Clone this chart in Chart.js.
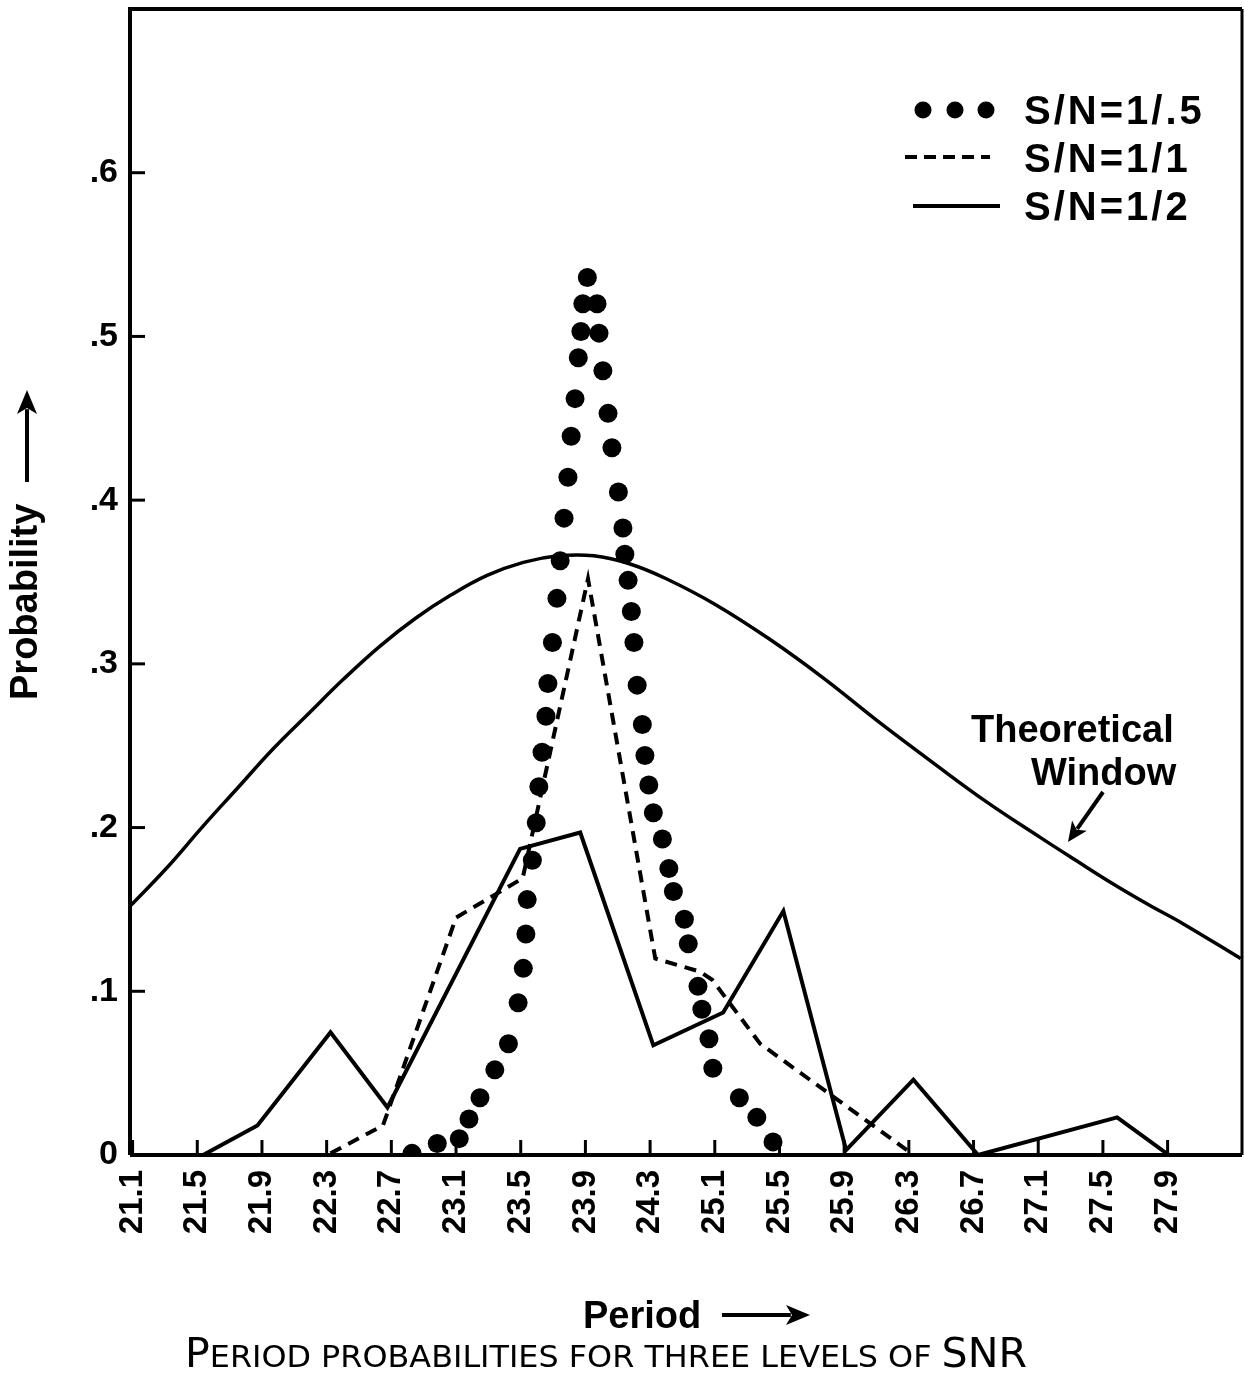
<!DOCTYPE html>
<html><head><meta charset="utf-8">
<script src="https://cdn.jsdelivr.net/npm/chart.js@4.4.1/dist/chart.umd.min.js"></script>
<style>html,body{margin:0;padding:0;background:#fff;overflow:hidden;}#wrap{width:1244px;height:1375px;}canvas{display:block;}</style>
</head><body><div id="wrap"><canvas id="c" width="1244" height="1375"></canvas></div>
<script>
// ---- tick labels (period axis positions are tick indices; original skips 24.7) ----
const xTickLabels = ['21.1','21.5','21.9','22.3','22.7','23.1','23.5','23.9','24.3','25.1','25.5','25.9','26.3','26.7','27.1','27.5','27.9'];
const xTickPositions = [0,1,2,3,4,5,6,7,8,9,10,11,12,13,14,15,16];
const yTickValues = [0,0.1,0.2,0.3,0.4,0.5,0.6];
const yTickLabels = ['0','.1','.2','.3','.4','.5','.6'];
const seriesNames = ['S/N=1/.5','S/N=1/1','S/N=1/2'];
const annotationLines = ['Theoretical','Window'];
const xTitle = 'Period';
const yTitle = 'Probability';
const captionParts = [['P',true],['ERIOD PROBABILITIES FOR THREE LEVELS OF ',false],['SNR',true]];

// ---- S/N = 1/.5 (dots) ----
const snrHalfX = [4.32,4.71,5.05,5.20,5.37,5.60,5.81,5.96,6.04,6.08,6.10,6.18,6.24,6.28,6.33,6.39,6.42,6.49,6.56,6.61,6.67,6.73,6.78,6.84,6.89,6.93,6.96,7.03,7.18,7.21,7.27,7.35,7.41,7.51,7.58,7.61,7.66,7.71,7.75,7.80,7.88,7.92,7.98,8.05,8.19,8.29,8.36,8.53,8.59,8.74,8.80,8.91,8.97,9.38,9.65,9.90];
const snrHalfY = [0.001,0.007,0.010,0.022,0.035,0.052,0.068,0.093,0.114,0.135,0.156,0.180,0.203,0.225,0.246,0.268,0.288,0.313,0.340,0.363,0.389,0.414,0.439,0.462,0.487,0.503,0.520,0.536,0.520,0.502,0.479,0.453,0.432,0.405,0.383,0.367,0.351,0.332,0.313,0.287,0.263,0.244,0.226,0.209,0.193,0.175,0.161,0.144,0.129,0.103,0.089,0.071,0.053,0.035,0.023,0.008];
// ---- S/N = 1/1 (dashed) ----
const snrOneX = [3.06,3.87,5.00,6.03,7.04,8.08,8.77,8.96,9.70,11.97];
const snrOneY = [0.001,0.018,0.145,0.169,0.352,0.120,0.112,0.107,0.068,0.003];
// ---- S/N = 1/2 (solid) ----
const snrTwoX = [1.09,1.93,3.06,3.94,5.99,6.92,8.05,9.13,10.06,11.03,12.07,13.07,15.22,16.02];
const snrTwoY = [0,0.018,0.075,0.029,0.187,0.197,0.067,0.087,0.149,0.003,0.046,0,0.023,0];
// ---- Theoretical window ----
const windowX = [-0.04,0.52,1.07,1.62,2.17,2.73,3.27,3.83,4.38,4.92,5.48,6.04,6.59,7.13,7.69,8.25,9.02,9.85,10.69,11.52,12.36,13.19,14.03,14.58,15.14,15.70,16.25,17.13];
const windowY = [0.152,0.175,0.200,0.224,0.248,0.270,0.291,0.311,0.328,0.342,0.354,0.362,0.366,0.366,0.361,0.352,0.336,0.315,0.291,0.265,0.240,0.216,0.194,0.180,0.166,0.153,0.141,0.120];

const pts = (xs, ys) => xs.map((x, i) => ({x, y: ys[i]}));
const FONT = "'Liberation Sans', Arial, sans-serif";

function arrow(ctx, x1, y1, x2, y2, head, half) {
  const a = Math.atan2(y2 - y1, x2 - x1);
  ctx.beginPath(); ctx.moveTo(x1, y1);
  ctx.lineTo(x2 - Math.cos(a) * head * 0.8, y2 - Math.sin(a) * head * 0.8); ctx.stroke();
  ctx.beginPath(); ctx.moveTo(x2, y2);
  ctx.lineTo(x2 - Math.cos(a) * head - Math.sin(a) * half, y2 - Math.sin(a) * head + Math.cos(a) * half);
  ctx.lineTo(x2 - Math.cos(a) * head * 0.75, y2 - Math.sin(a) * head * 0.75);
  ctx.lineTo(x2 - Math.cos(a) * head + Math.sin(a) * half, y2 - Math.sin(a) * head - Math.cos(a) * half);
  ctx.closePath(); ctx.fill();
}

const decor = {
  id: 'decor',
  afterDraw(chart) {
    const {ctx, chartArea: a, scales: {x, y}} = chart;
    ctx.save();
    ctx.strokeStyle = '#000'; ctx.fillStyle = '#000';
    // frame
    ctx.lineWidth = 4;
    ctx.beginPath();
    ctx.moveTo(a.left, a.bottom); ctx.lineTo(a.left, a.top); ctx.lineTo(a.right, a.top);
    ctx.moveTo(a.left, a.bottom); ctx.lineTo(a.right, a.bottom);
    ctx.stroke();
    ctx.lineWidth = 3;
    ctx.beginPath(); ctx.moveTo(a.right, a.top); ctx.lineTo(a.right, a.bottom); ctx.stroke();
    // inward ticks
    ctx.lineWidth = 3;
    xTickPositions.forEach(v => {
      const px = x.getPixelForValue(v);
      ctx.beginPath(); ctx.moveTo(px, a.bottom); ctx.lineTo(px, a.bottom - 15); ctx.stroke();
    });
    yTickValues.forEach(v => {
      if (v === 0) return;
      const py = y.getPixelForValue(v);
      ctx.beginPath(); ctx.moveTo(a.left, py); ctx.lineTo(a.left + 15, py); ctx.stroke();
    });
    // legend
    ctx.font = 'bold 40px ' + FONT;
    ctx.letterSpacing = '3px';
    ctx.textBaseline = 'alphabetic'; ctx.textAlign = 'left';
    [923, 955, 986].forEach(cx => { ctx.beginPath(); ctx.arc(cx, 110, 8.5, 0, Math.PI * 2); ctx.fill(); });
    ctx.fillText(seriesNames[0], 1024, 124);
    ctx.lineWidth = 4; ctx.setLineDash([12, 7]);
    ctx.beginPath(); ctx.moveTo(905, 157); ctx.lineTo(990, 157); ctx.stroke();
    ctx.setLineDash([]);
    ctx.fillText(seriesNames[1], 1024, 172);
    ctx.beginPath(); ctx.moveTo(913, 206); ctx.lineTo(1000, 206); ctx.stroke();
    ctx.fillText(seriesNames[2], 1024, 220);
    ctx.letterSpacing = '0px';
    // annotation
    ctx.font = 'bold 38px ' + FONT;
    ctx.fillText(annotationLines[0], 971, 742);
    ctx.fillText(annotationLines[1], 1031, 785);
    ctx.lineWidth = 4;
    arrow(ctx, 1103, 792, 1068, 842, 20, 9);
    // y title
    ctx.save();
    ctx.translate(27, 700); ctx.rotate(-Math.PI / 2);
    ctx.font = 'bold 38px ' + FONT; ctx.textBaseline = 'middle'; ctx.textAlign = 'left';
    ctx.fillText(yTitle, 0, 0);
    ctx.lineWidth = 4;
    arrow(ctx, 218, 0, 310, 0, 24, 10);
    ctx.restore();
    // x title
    ctx.font = 'bold 38px ' + FONT; ctx.textAlign = 'left'; ctx.textBaseline = 'alphabetic';
    ctx.fillText(xTitle, 583, 1328);
    ctx.lineWidth = 4;
    arrow(ctx, 722, 1315, 810, 1315, 24, 10);
    // caption (small caps, fitted to width)
    const bigF = "40px 'Liberation Sans Narrow', 'DejaVu Sans Condensed', sans-serif";
    const smallF = "31px 'Liberation Sans Narrow', 'DejaVu Sans Condensed', sans-serif";
    let total = 0;
    const widths = captionParts.map(([t, big]) => { ctx.font = big ? bigF : smallF; const w = ctx.measureText(t).width; total += w; return w; });
    const target = 842, sx = target / total;
    ctx.save();
    ctx.translate(185, 1367); ctx.scale(sx, 1);
    let cx = 0;
    captionParts.forEach(([t, big], i) => { ctx.font = big ? bigF : smallF; ctx.fillText(t, cx, 0); cx += widths[i]; });
    ctx.restore();
    ctx.restore();
  }
};

new Chart(document.getElementById('c'), {
  type: 'line',
  data: {
    datasets: [
      { label: seriesNames[0], data: pts(snrHalfX, snrHalfY), showLine: false, pointRadius: 9.5, pointHoverRadius: 9.5,
        pointBackgroundColor: '#000', pointBorderWidth: 0, borderColor: '#000' },
      { label: seriesNames[1], data: pts(snrOneX, snrOneY), borderColor: '#000', borderWidth: 4, borderDash: [12, 8],
        pointRadius: 0, tension: 0, borderCapStyle: 'butt' },
      { label: seriesNames[2], data: pts(snrTwoX, snrTwoY), borderColor: '#000', borderWidth: 4, pointRadius: 0, tension: 0,
        borderJoinStyle: 'miter' },
      { label: 'Theoretical Window', data: pts(windowX, windowY), borderColor: '#000', borderWidth: 3.5, pointRadius: 0,
        tension: 0.4 }
    ]
  },
  options: {
    responsive: false, animation: false, devicePixelRatio: 1,
    layout: { autoPadding: false, padding: { top: 9, right: 2, left: 0, bottom: 0 } },
    plugins: { legend: { display: false }, tooltip: { enabled: false }, title: { display: false } },
    scales: {
      x: {
        type: 'linear', min: -0.04, max: 17.15,
        afterBuildTicks: s => { s.ticks = xTickPositions.map(v => ({value: v})); },
        afterFit: s => { s.height = 220; s.paddingLeft = 0; s.paddingRight = 0; },
        grid: { display: false, drawTicks: false }, border: { display: false },
        ticks: { autoSkip: false, minRotation: 90, maxRotation: 90, padding: 15, color: '#000',
          font: { family: FONT, size: 33, weight: 'bold' },
          callback: (v, i) => xTickLabels[i] }
      },
      y: {
        min: 0, max: 0.70,
        afterBuildTicks: s => { s.ticks = yTickValues.map(v => ({value: v})); },
        afterFit: s => { s.width = 130; s.paddingTop = 0; s.paddingBottom = 0; },
        grid: { display: false, drawTicks: false }, border: { display: false },
        ticks: { padding: 12, color: '#000', font: { family: FONT, size: 34, weight: 'bold' },
          callback: (v, i) => yTickLabels[i] }
      }
    }
  },
  plugins: [decor]
});
</script></body></html>
